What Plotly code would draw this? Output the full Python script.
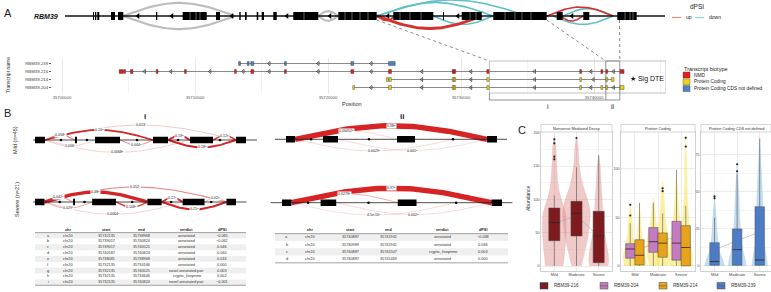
import numpy as np
import plotly.graph_objects as go

W, H = 771, 292
FONT = 'Liberation Sans, Arial, sans-serif'

# ======================= DATA =======================
# ---- Panel A: collapsed RBM39 gene model (schematic units) ----
gene_span = [65, 665]
gene_exon_start = [93, 95, 97.3, 111, 118, 156, 182.7, 216, 239.3, 245, 256.7, 261.7, 273.3, 293.3, 338.3, 393.3, 443, 461.7, 493.3, 556.7, 583.3, 617.3]
gene_exon_end = [94, 96.3, 99.3, 115, 123.3, 157.3, 206.7, 220, 240.7, 246.7, 258.3, 264, 276.7, 318.3, 376.7, 433.3, 444, 481.7, 546.7, 562.7, 589.3, 636.7]
gene_exon_seams = [190, 196, 200, 304, 345, 352, 360, 368, 400, 410, 421, 470, 476, 505, 515, 522, 531, 625, 630, 633]
gene_strand_marks = [138, 172, 232, 287, 330, 388, 458, 572]
gene_arc_start = [123, 123, 318, 318, 377, 377, 433, 553, 563, 377, 377, 547, 560]
gene_arc_end = [235, 235, 338, 338, 527, 493, 493, 613, 613, 482, 395, 613, 583]
gene_arc_side = [1, -1, 1, -1, 1, 1, -1, -1, 1, -1, -1, 1, -1]
gene_arc_dir = ['ns', 'ns', 'ns', 'ns', 'down', 'down', 'down', 'down', 'down', 'up', 'up', 'up', 'up']
gene_zoom_from = [376.7, 546.7, 619.5]   # diagram ends of regions i / ii

# ---- Panel A: transcript structures (chr20, genomic coordinates) ----
tx_names = ['RBM39-204', 'RBM39-214', 'RBM39-216', 'RBM39-239']
tx_biotype = ['Protein Coding', 'Protein Coding', 'NMD', 'Protein Coding CDS not defined']
tx_exon_start = [
    [35721860, 35724550, 35729340, 35729460, 35731940, 35738930, 35740520, 35740887, 35741941],
    [35724400, 35724580, 35729340, 35729460, 35731940, 35738930, 35740887, 35741300],
    [35704300, 35704640, 35705140, 35707080, 35709210, 35712970, 35714200, 35716730, 35721720,
     35724550, 35729340, 35729460, 35731940, 35738930, 35740520, 35740887, 35741941],
    [35713280, 35713930, 35714200, 35716730, 35721720, 35724550],
]
tx_exon_end = [
    [35721930, 35724770, 35729420, 35729540, 35732135, 35739017, 35740640, 35740989, 35742260],
    [35724470, 35724760, 35729420, 35729540, 35732135, 35739017, 35740989, 35741507],
    [35704600, 35704720, 35705340, 35707160, 35709290, 35713050, 35714420, 35716810, 35721940,
     35724770, 35729420, 35729540, 35732135, 35739017, 35740640, 35740989, 35742260],
    [35713360, 35714010, 35714420, 35716810, 35721940, 35725050],
]
sig_dte = 'RBM39-214'
position_ticks = [35700000, 35710000, 35720000, 35730000, 35740000]
region_i = [35732135, 35740887]
region_ii = [35740887, 35741941]
biotypes = ['NMD', 'Protein Coding', 'Protein Coding CDS not defined']

# ---- Panel B: splice graphs ----
bi_exon_start = [35, 75, 95, 153, 190, 236]
bi_exon_end = [45, 77, 120, 168, 213, 246]
bi_dots = [61, 87, 137, 178, 220]
bi_span = [33, 257]
bi_arc_start = [45, 45, 45, 168, 213, 45, 120, 168, 45]
bi_arc_end = [75, 153, 236, 190, 236, 95, 153, 236, 190]
bi_arc_side = [1, 1, 1, 1, 1, -1, -1, -1, -1]
bi_letters = ['e', 'b', 'i', 'd', 'g', 'f', 'h', 'a', 'c']
mild_i_label = ['0.058', '0.16', '0.013', '0.19', '0.12', '0.006', '0.044', '0.18', '0.0068']
severe_i_label = ['0.042', '0.48', '0.052', '0.17', '0.02', '0.029', '0.108', '0.21', '0.0064']

bii_exon_start = [286, 323, 397, 487]
bii_exon_end = [295, 338, 415, 497]
bii_dots = [311, 369, 453]
bii_span = [275, 507]
bii_arc_start = [295, 295, 295, 338]
bii_arc_end = [487, 397, 453, 487]
bii_arc_side = [1, 1, -1, -1]
bii_letters = ['a', 'b', 'c', 'd']
mild_ii_label = ['0.98', '0.00052', '0.0029', '0.001']
severe_ii_label = ['0.97', '0.0278', '4.5e-05', '0.002']

tab_cols = ['', 'chr', 'start', 'end', 'verdict', 'dPSI']
tab_i_id = ['a', 'b', 'c', 'd', 'e', 'f', 'g', 'h', 'i']
tab_i_chr = ['chr20'] * 9
tab_i_start = ['35732135', '35739017', '35739017', '35740587', '35738081', '35732135', '35732135', '35732135', '35732135']
tab_i_end = ['35738968', '35740824', '35740525', '35740824', '35738968', '35734166', '35740525', '35734646', '35740824']
tab_i_verdict = ['annotated', 'annotated', 'annotated', 'annotated', 'annotated', 'annotated',
                 'novel annotated pair', 'cryptic_fiveprime', 'novel annotated pair']
tab_i_dpsi = ['−0.065', '−0.062', '0.046', '0.040', '0.016', '0.000', '0.003', '0.002', '−0.001']

tab_ii_id = ['a', 'b', 'c', 'd']
tab_ii_chr = ['chr20'] * 4
tab_ii_start = ['35740887', '35740989', '35740887', '35740887']
tab_ii_end = ['35741941', '35741941', '35741507', '35741469']
tab_ii_verdict = ['annotated', 'annotated', 'cryptic_fiveprime', 'annotated']
tab_ii_dpsi = ['−0.038', '0.036', '0.003', '0.000']

# ---- Panel C: abundance by severity ----
conditions = ['Mild', 'Moderate', 'Severe']
facets = ['Nonsense Mediated Decay', 'Protein Coding', 'Protein Coding CDS not defined']
t216_q1 = [38, 45, 5]; t216_med = [65, 79, 45]; t216_q3 = [87, 97, 82]; t216_lo = [0, 0, 0]; t216_hi = [106, 148, 166]
t216_out_x = [0, 0, 0, 0, 1]; t216_out_y = [190, 184, 164, 160, 192]
t204_q1 = [8, 14, 6]; t204_med = [17.5, 25, 23.5]; t204_q3 = [23, 39.5, 46]; t204_lo = [0, 0, 0]; t204_hi = [44, 65, 99]
t204_out_x = [0, 0]; t204_out_y = [63, 52]
t214_q1 = [1, 9, 0]; t214_med = [11, 23.5, 19]; t214_q3 = [27, 34, 41.5]; t214_lo = [0, 0, 0]; t214_hi = [65, 54, 62]
t214_out_x = [1, 1, 2, 2]; t214_out_y = [80, 77, 132, 123]
t239_q1 = [0.5, 0.5, 0.5]; t239_med = [3, 11, 4]; t239_q3 = [15.7, 25, 40]; t239_lo = [0, 0, 0]; t239_hi = [32.6, 62, 86]
t239_out_x = [0, 0, 1, 1]; t239_out_y = [45.7, 47, 68.7, 64]
trend_nmd = [64, 75, 45]
trend_pc = [15, 25, 31]
trend_cds = [11, 17, 23]
# violin outlines: abundance values and half-widths (category units)
vio_216_v = [[0, 20, 40, 60, 80, 100, 120, 150, 180, 195],
             [0, 20, 40, 60, 80, 100, 120, 150, 180, 195],
             [0, 10, 25, 50, 75, 100, 125, 150, 167]]
vio_216_w = [[0.40, 0.47, 0.52, 0.54, 0.50, 0.32, 0.18, 0.11, 0.07, 0.0],
             [0.22, 0.36, 0.50, 0.58, 0.62, 0.50, 0.30, 0.13, 0.07, 0.0],
             [0.42, 0.45, 0.40, 0.27, 0.20, 0.16, 0.11, 0.07, 0.0]]
vio_204_v = [[0, 10, 20, 30, 45, 55, 65], [0, 10, 20, 30, 45, 60, 70], [0, 10, 25, 50, 75, 100]]
vio_204_w = [[0.26, 0.30, 0.22, 0.13, 0.09, 0.04, 0], [0.17, 0.26, 0.30, 0.26, 0.13, 0.06, 0], [0.30, 0.35, 0.26, 0.13, 0.06, 0]]
vio_214_v = [[0, 10, 20, 30, 45, 65], [0, 10, 25, 40, 60, 80, 88], [0, 10, 25, 50, 80, 110, 135]]
vio_214_w = [[0.30, 0.26, 0.17, 0.11, 0.06, 0], [0.22, 0.26, 0.26, 0.17, 0.09, 0.04, 0], [0.30, 0.30, 0.22, 0.13, 0.06, 0.04, 0]]
vio_239_v = [[0, 5, 10, 20, 30, 40, 47], [0, 5, 10, 20, 30, 45, 60, 69], [0, 5, 15, 30, 45, 60, 75, 87]]
vio_239_w = [[0.44, 0.35, 0.22, 0.13, 0.09, 0.04, 0], [0.40, 0.35, 0.27, 0.18, 0.13, 0.09, 0.04, 0], [0.35, 0.31, 0.20, 0.15, 0.13, 0.09, 0.04, 0]]

# ======================= STYLE =======================
RED = '#d7312e'; TEAL = '#5fbfc6'; GREY_ARC = '#bdbdbd'
ARC_COL = {'ns': GREY_ARC, 'down': TEAL, 'up': RED}
BIO_COL = {'NMD': '#e0201f', 'Protein Coding': '#f2d31b', 'Protein Coding CDS not defined': '#4f83c4'}
BOX_COL = {'RBM39-216': '#7d1b1e', 'RBM39-204': '#c27cbf', 'RBM39-214': '#e8a31d', 'RBM39-239': '#4d7cc6'}
SUP = {'a': 'ᵃ', 'b': 'ᵇ', 'c': 'ᶜ', 'd': 'ᵈ', 'e': 'ᵉ', 'f': 'ᶠ', 'g': 'ᵍ', 'h': 'ʰ', 'i': 'ⁱ'}

fig = go.Figure()
axes = {}
annots = []
shapes = []


def add_axes(n, xpx, ypx, xr, yr, xkw=None, ykw=None):
    sx = '' if n == 1 else str(n)
    hid = dict(visible=False, showgrid=False, zeroline=False, fixedrange=True)
    xa = dict(hid, domain=[xpx[0] / W, xpx[1] / W], range=xr, anchor='y' + sx)
    ya = dict(hid, domain=[1 - ypx[1] / H, 1 - ypx[0] / H], range=yr, anchor='x' + sx)
    if xkw:
        xa.update(xkw)
    if ykw:
        ya.update(ykw)
    axes['xaxis' + sx] = xa
    axes['yaxis' + sx] = ya
    return 'x' + sx, 'y' + sx


def ann(text, x, y, size, color='#222', xanchor='center', yanchor='middle', weight='normal', style='normal', **kw):
    annots.append(dict(xref='paper', yref='paper', x=x / W, y=1 - y / H, text=text, showarrow=False,
                       font=dict(size=size, family=FONT, color=color, weight=weight, style=style),
                       xanchor=xanchor, yanchor=yanchor, **kw))


def rect_poly(starts, ends, y0, y1):
    xs, ys = [], []
    for s, e in zip(starts, ends):
        xs += [s, e, e, s, s, None]
        ys += [y0, y0, y1, y1, y0, None]
    return xs, ys


def arc_xy(s, e, side, h, n=50):
    t = np.linspace(0, 1, n)
    return s + (e - s) * t, side * h * np.sin(np.pi * t)


def line(xa, ya, x, y, color, width, **kw):
    fig.add_trace(go.Scatter(x=x, y=y, mode='lines', line=dict(color=color, width=width, **kw),
                             xaxis=xa, yaxis=ya, hoverinfo='skip', showlegend=False))


def fill(xa, ya, x, y, color, lcolor=None, lw=0, shape='linear'):
    fig.add_trace(go.Scatter(x=x, y=y, mode='lines', fill='toself', fillcolor=color,
                             line=dict(color=lcolor or color, width=lw, shape=shape),
                             xaxis=xa, yaxis=ya, hoverinfo='skip', showlegend=False))


# ======================= PANEL A: gene model =======================
xa1, ya1 = add_axes(1, (0, W), (0, 34), [0, W], [-18, 16])
for s, e, sd, d in zip(gene_arc_start, gene_arc_end, gene_arc_side, gene_arc_dir):
    h = min(16, 3 + 0.09 * (e - s))
    ax, ay = arc_xy(s, e, sd, h)
    wdt = 3.0 if (d == 'up' and e - s > 90) else (2.2 if d == 'ns' else 1.6)
    line(xa1, ya1, ax, ay, ARC_COL[d], wdt)
line(xa1, ya1, gene_span, [0, 0], '#111', 1.3)
gx, gy = rect_poly(gene_exon_start, gene_exon_end, -4, 4)
fill(xa1, ya1, gx, gy, '#000000')
sx_, sy_ = [], []
for s in gene_exon_seams:
    sx_ += [s, s, None]
    sy_ += [-4, 4, None]
line(xa1, ya1, sx_, sy_, 'rgba(255,255,255,0.75)', 0.5)
fig.add_trace(go.Scatter(x=gene_strand_marks, y=[0] * len(gene_strand_marks), mode='markers',
                         marker=dict(symbol='triangle-left', size=5, color='#000'),
                         xaxis=xa1, yaxis=ya1, hoverinfo='skip', showlegend=False))
ann('RBM39', 60, 16, 7, color='#111', xanchor='right', weight='bold', style='italic')
ann('A', 2, 13, 11, xanchor='left')
ann('dPSI', 697, 7, 6.5)
shapes.append(dict(type='line', xref='paper', yref='paper', x0=672 / W, x1=681 / W, y0=1 - 17.5 / H, y1=1 - 17.5 / H,
                   line=dict(color='#f08c7f', width=1.2)))
ann('up', 684, 17.5, 5, xanchor='left')
shapes.append(dict(type='line', xref='paper', yref='paper', x0=695 / W, x1=704 / W, y0=1 - 17.5 / H, y1=1 - 17.5 / H,
                   line=dict(color='#8fd3d8', width=1.2)))
ann('down', 707, 17.5, 5, xanchor='left')

# ======================= PANEL A: transcripts =======================
GX0, GX1 = 52, 666
bp_per_px = 10000 / 133.0
xr2 = [35700000 + (GX0 - 62) * bp_per_px, 35700000 + (GX1 - 62) * bp_per_px]
xa2, ya2 = add_axes(2, (GX0, GX1), (57.5, 93.5), xr2, [-0.75, 3.75],
                    xkw=dict(visible=True, showgrid=True, gridcolor='#e9e9e9', gridwidth=0.6,
                             tickvals=position_ticks, ticktext=[str(v) for v in position_ticks],
                             tickfont=dict(size=4.2, color='#555', family=FONT), ticks='', showline=False,
                             minor=dict(dtick=5000, tick0=35700000, showgrid=True, gridcolor='#f4f4f4', gridwidth=0.5)),
                    ykw=dict(visible=True, tickvals=[0, 1, 2, 3], ticktext=tx_names, showgrid=False,
                             tickfont=dict(size=4.3, color='#444', family=FONT), ticks='outside', ticklen=2,
                             tickcolor='#555', tickwidth=0.5, showline=False))


def g2px(g):
    return GX0 + (g - xr2[0]) / (xr2[1] - xr2[0]) * (GX1 - GX0)


for r, (nm, bt, st, en) in enumerate(zip(tx_names, tx_biotype, tx_exon_start, tx_exon_end)):
    line(xa2, ya2, [min(st), max(en)], [r, r], '#8a8a8a', 1.0)
    mids = [(en[k] + st[k + 1]) / 2 for k in range(len(st) - 1) if st[k + 1] - en[k] > 900]
    fig.add_trace(go.Scatter(x=mids, y=[r] * len(mids), mode='markers',
                             marker=dict(symbol='triangle-left-open', size=3.5, color='#444', line=dict(width=0.8)),
                             xaxis=xa2, yaxis=ya2, hoverinfo='skip', showlegend=False))
    ex, ey = rect_poly(st, [max(e, s + 140) for s, e in zip(st, en)], r - 0.24, r + 0.24)
    fill(xa2, ya2, ex, ey, BIO_COL[bt], lcolor='#333', lw=0.4)
    if nm == sig_dte:
        annots.append(dict(xref=xa2, yref=ya2, x=region_ii[1] + 600, y=r, text='★ Sig DTE', showarrow=False,
                           font=dict(size=7, family=FONT, color='#111'), xanchor='left', yanchor='middle'))

ann('Transcript name', 8, 75, 5, color='#333', textangle=-90)
ann('Position', 352, 104, 5.5, color='#333')
shapes.append(dict(type='rect', xref=xa2, yref='paper', x0=region_i[0], x1=xr2[1], y0=1 - 93 / H, y1=1 - 61 / H,
                   line=dict(color='#a8a8a8', width=0.7)))
shapes.append(dict(type='path', xref='paper', yref='paper',
                   path='M {:.5f} {:.5f} L {:.5f} {:.5f} L {:.5f} {:.5f}'.format(
                       g2px(region_i[0]) / W, 1 - 93 / H, g2px(region_i[0]) / W, 1 - 100 / H,
                       g2px(region_i[1]) / W, 1 - 100 / H), line=dict(color='#666', width=0.7)))
shapes.append(dict(type='rect', xref=xa2, yref='paper', x0=region_ii[0], x1=region_ii[1], y0=1 - 100 / H, y1=1 - 61 / H,
                   line=dict(color='#666', width=0.7)))
ann('i', (g2px(region_i[0]) + g2px(region_i[1])) / 2, 106.5, 7, color='#222')
ann('ii', (g2px(region_ii[0]) + g2px(region_ii[1])) / 2, 106.5, 7, color='#222')
for fx_, tg in zip(gene_zoom_from, [region_i[0], region_ii[0], region_ii[1]]):
    shapes.append(dict(type='line', xref='paper', yref='paper', x0=fx_ / W, y0=1 - 20 / H, x1=g2px(tg) / W, y1=1 - 61 / H,
                       line=dict(color='#555', width=0.7, dash='dot')))
ann('Transcript biotype', 682, 68.5, 5.5, color='#222', xanchor='left')
for k, bt in enumerate(biotypes):
    yy = 75 + k * 6.8
    shapes.append(dict(type='rect', xref='paper', yref='paper', x0=683 / W, x1=690 / W, y0=1 - (yy + 3) / H,
                       y1=1 - (yy - 3) / H, fillcolor=BIO_COL[bt], line=dict(color='#444', width=0.4)))
    ann(bt, 691.5, yy, 4.8, color='#222', xanchor='left')

# ======================= PANEL B: splice graphs =======================
ann('B', 2, 113, 11, xanchor='left')
ann('i', 145, 117, 8, weight='bold')
ann('ii', 402, 117, 8, weight='bold')
ann('Mild (n=45)', 15, 140, 5.5, color='#333', textangle=-90)
ann('Severe (n=21)', 17, 200, 5.5, color='#333', textangle=-90)


def splice_graph(n, xpx, ypx, xr, yr, span, es, ee, dots, a_s, a_e, a_side, labels, letters, hscale, hcap):
    xa, ya = add_axes(n, xpx, ypx, xr, yr)
    order = np.argsort([float(l) for l in labels])
    for k in order:
        s, e, sd, lab = a_s[k], a_e[k], a_side[k], labels[k]
        p = float(lab)
        h = min(hcap, 3 + hscale * (e - s))
        ax, ay = arc_xy(s, e, sd, h)
        wdt = 0.5 + 5.0 * p ** 0.75
        alpha = min(1.0, 0.3 + 5 * p)
        line(xa, ya, ax, ay, 'rgba(214,35,35,{:.2f})'.format(alpha), wdt)
        annots.append(dict(xref=xa, yref=ya, x=(s + e) / 2, y=sd * h, text=lab + SUP[letters[k]],
                           showarrow=False, font=dict(size=3.6, family=FONT, color='#222'), bgcolor='white',
                           borderpad=0, xanchor='center', yanchor='middle'))
    line(xa, ya, span, [0, 0], '#222', 0.8)
    bx, by = rect_poly(es, ee, -3.3, 3.3)
    fill(xa, ya, bx, by, '#000000')
    fig.add_trace(go.Scatter(x=dots, y=[0] * len(dots), mode='markers', marker=dict(size=2.6, color='#000'),
                             xaxis=xa, yaxis=ya, hoverinfo='skip', showlegend=False))


splice_graph(3, (0, 260), (118, 158), [0, 260], [-18, 22], bi_span, bi_exon_start, bi_exon_end, bi_dots,
             bi_arc_start, bi_arc_end, bi_arc_side, mild_i_label, bi_letters, 0.065, 15)
splice_graph(4, (1.66, 249.3), (180, 222), [0, 260], [-20, 22], bi_span, bi_exon_start, bi_exon_end, bi_dots,
             bi_arc_start, bi_arc_end, bi_arc_side, severe_i_label, bi_letters, 0.065, 15)
splice_graph(5, (260, 520), (118, 158), [260, 520], [-18.7, 21.3], bii_span, bii_exon_start, bii_exon_end, bii_dots,
             bii_arc_start, bii_arc_end, bii_arc_side, mild_ii_label, bii_letters, 0.055, 16)
splice_graph(6, (254.9, 526), (180, 222), [260, 520], [-19.3, 22.7], bii_span, bii_exon_start, bii_exon_end, bii_dots,
             bii_arc_start, bii_arc_end, bii_arc_side, severe_ii_label, bii_letters, 0.06, 16)


def table(n, xpx, ypx, yr, colx, columns):
    xa, ya = add_axes(n, xpx, ypx, [0, 1], yr)
    nrow = len(columns[0])
    for r in range(0, nrow, 2):
        shapes.append(dict(type='rect', xref=xa + ' domain', yref=ya, x0=0, x1=1, y0=r - 0.5, y1=r + 0.5,
                           fillcolor='#efefef', line=dict(width=0), layer='below'))
    for yv in [-0.5, nrow - 0.5]:
        shapes.append(dict(type='line', xref=xa + ' domain', yref=ya, x0=0, x1=1, y0=yv, y1=yv,
                           line=dict(color='#8a8a8a', width=0.8)))
    for cx, head, vals in zip(colx, tab_cols, columns):
        if head:
            annots.append(dict(xref=xa, yref=ya, x=cx, y=-1, text=head, showarrow=False,
                               font=dict(size=3.8, family=FONT, color='#222', weight='bold'),
                               xanchor='center', yanchor='middle'))
        for r, v in enumerate(vals):
            annots.append(dict(xref=xa, yref=ya, x=cx, y=r, text=v, showarrow=False,
                               font=dict(size=3.8, family=FONT, color='#333'), xanchor='center', yanchor='middle'))


table(7, (35, 246), (226, 289), [9.14, -1.63], [0.062, 0.156, 0.341, 0.507, 0.72, 0.886],
      [tab_i_id, tab_i_chr, tab_i_start, tab_i_end, tab_i_verdict, tab_i_dpsi])
table(8, (275, 508), (226, 264), [3.66, -1.55], [0.05, 0.15, 0.322, 0.485, 0.72, 0.893],
      [tab_ii_id, tab_ii_chr, tab_ii_start, tab_ii_end, tab_ii_verdict, tab_ii_dpsi])

# ======================= PANEL C =======================
ann('C', 516, 130, 11, xanchor='left')
ann('Abundance', 528, 198, 5, color='#333', textangle=-90)


def facet_axes(n, xpx, xr, yr, yticks):
    return add_axes(n, xpx, (132, 271), xr, yr,
                    xkw=dict(visible=True, tickvals=[0, 1, 2], ticktext=conditions, showgrid=True, gridcolor='#ececec',
                             gridwidth=0.6, tickfont=dict(size=3.8, color='#444', family=FONT), ticks='',
                             showline=True, mirror=True, linecolor='#d0d0d0', linewidth=0.6),
                    ykw=dict(visible=True, tickvals=yticks, ticktext=[str(v) for v in yticks], showgrid=True,
                             gridcolor='#ececec', gridwidth=0.6, tickfont=dict(size=3.6, color='#444', family=FONT),
                             ticks='', showline=True, mirror=True, linecolor='#d0d0d0', linewidth=0.6,
                             minor=dict(tickvals=[(a + b) / 2 for a, b in zip(yticks[:-1], yticks[1:])],
                                        showgrid=True, gridcolor='#f5f5f5', gridwidth=0.5)))


fx = [(541, 612), (621, 695), (701, 771)]
xa9, ya9 = facet_axes(9, fx[0], [-0.6, 2.6], [-7.5, 201], [0, 50, 100, 150, 200])
xa10, ya10 = facet_axes(10, fx[1], [-0.6, 2.6], [-5.2, 138], [0, 50, 100])
xa11, ya11 = facet_axes(11, fx[2], [-0.6, 2.5], [-3.4, 90.5], [0, 25, 50, 75])
for (x0, x1), ft in zip(fx, facets):
    shapes.append(dict(type='rect', xref='paper', yref='paper', x0=x0 / W, x1=x1 / W, y0=1 - 132 / H, y1=1 - 124.5 / H,
                       fillcolor='#ffffff', line=dict(color='#bdbdbd', width=0.6)))
    ann(ft, (x0 + x1) / 2, 128.3, 3.9, color='#333')


def violin(xa, ya, center, vals, hws, color):
    xs = [center + w for w in hws] + [center - w for w in hws[::-1]]
    ys = list(vals) + list(vals[::-1])
    fill(xa, ya, xs, ys, color, lcolor=color, lw=0.3, shape='spline')


def boxes(xa, ya, xpos, q1, med, q3, lo, hi, col, width, ox, oy):
    wx, wy, mx, my, bx, by = [], [], [], [], [], []
    for c, a, m, b, l, u in zip(xpos, q1, med, q3, lo, hi):
        wx += [c, c, None, c, c, None]
        wy += [b, u, None, a, l, None]
        mx += [c - width / 2, c + width / 2, None]
        my += [m, m, None]
        bx += [c - width / 2, c + width / 2, c + width / 2, c - width / 2, c - width / 2, None]
        by += [a, a, b, b, a, None]
    line(xa, ya, wx, wy, '#555555', 0.6)
    fill(xa, ya, bx, by, col, lcolor='#4a4a4a', lw=0.5)
    line(xa, ya, mx, my, '#2a2a2a', 0.8)
    fig.add_trace(go.Scatter(x=ox, y=oy, mode='markers', marker=dict(size=2.2, color='#222'),
                             xaxis=xa, yaxis=ya, hoverinfo='skip', showlegend=False))


PINK = 'rgba(222,135,135,0.45)'; YEL = 'rgba(248,225,70,0.5)'; LBLUE = 'rgba(135,188,225,0.5)'
for c in range(3):
    violin(xa9, ya9, c, vio_216_v[c], vio_216_w[c], PINK)
    violin(xa10, ya10, c - 0.2, vio_204_v[c], vio_204_w[c], YEL)
    violin(xa10, ya10, c + 0.2, vio_214_v[c], vio_214_w[c], YEL)
    violin(xa11, ya11, c, vio_239_v[c], vio_239_w[c], LBLUE)
for xa, ya, tr in [(xa9, ya9, trend_nmd), (xa10, ya10, trend_pc), (xa11, ya11, trend_cds)]:
    line(xa, ya, [0, 1, 2], tr, 'rgba(160,160,160,0.7)', 0.8)
boxes(xa9, ya9, [0, 1, 2], t216_q1, t216_med, t216_q3, t216_lo, t216_hi, BOX_COL['RBM39-216'], 0.5, t216_out_x, t216_out_y)
boxes(xa10, ya10, [-0.2, 0.8, 1.8], t204_q1, t204_med, t204_q3, t204_lo, t204_hi, BOX_COL['RBM39-204'], 0.4,
      [x - 0.2 for x in t204_out_x], t204_out_y)
boxes(xa10, ya10, [0.2, 1.2, 2.2], t214_q1, t214_med, t214_q3, t214_lo, t214_hi, BOX_COL['RBM39-214'], 0.4,
      [x + 0.2 for x in t214_out_x], t214_out_y)
boxes(xa11, ya11, [0, 1, 2], t239_q1, t239_med, t239_q3, t239_lo, t239_hi, BOX_COL['RBM39-239'], 0.42, t239_out_x, t239_out_y)

for nm, lx in zip(['RBM39-216', 'RBM39-204', 'RBM39-214', 'RBM39-239'], [540, 600, 659, 717]):
    shapes.append(dict(type='rect', xref='paper', yref='paper', x0=lx / W, x1=(lx + 8) / W, y0=1 - 289 / H,
                       y1=1 - 282.5 / H, fillcolor=BOX_COL[nm], line=dict(color='#4a4a4a', width=0.5)))
    shapes.append(dict(type='line', xref='paper', yref='paper', x0=lx / W, x1=(lx + 8) / W, y0=1 - 285.8 / H,
                       y1=1 - 285.8 / H, line=dict(color='#4a4a4a', width=0.5)))
    ann(nm, lx + 12, 285.8, 4.6, color='#333', xanchor='left')

fig.update_layout(width=W, height=H, margin=dict(l=0, r=0, t=0, b=0), paper_bgcolor='white', plot_bgcolor='white',
                  font=dict(family=FONT), showlegend=False, annotations=annots, shapes=shapes, **axes)
fig.write_html('out.html', config={'displayModeBar': False},
               post_script="document.body.style.margin='0px';document.body.style.overflow='hidden';")
